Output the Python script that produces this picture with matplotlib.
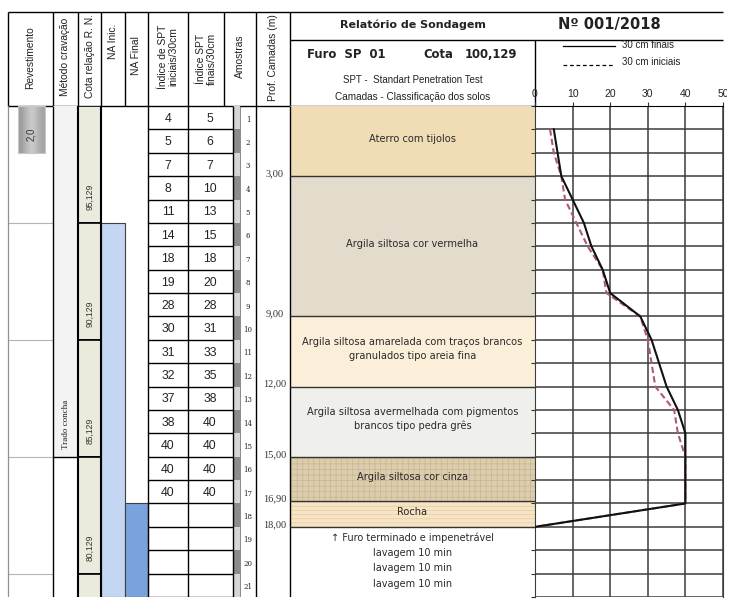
import numpy as np
from matplotlib import pyplot as plt
from matplotlib.patches import Rectangle
from matplotlib.transforms import Bbox

plt.rcParams['font.family'] = ['Liberation Sans', 'DejaVu Sans']
plt.rcParams['hatch.linewidth'] = 0.5

# dados da sondagem SP 01
amostras = list(range(1, 22))
spt_ini = [4, 5, 7, 8, 11, 14, 18, 19, 28, 30, 31, 32, 37, 38, 40, 40, 40]   # 30 cm iniciais
spt_fin = [5, 6, 7, 10, 13, 15, 18, 20, 28, 31, 33, 35, 38, 40, 40, 40, 40]  # 30 cm finais
prof_fim = 18.0      # furo impenetravel
prof_total = 21

camada_topo = [0.0, 3.0, 9.0, 12.0, 15.0, 16.9]
camada_base = [3.0, 9.0, 12.0, 15.0, 16.9, 18.0]
camada_nome = ['Aterro com tijolos',
               'Argila siltosa cor vermelha',
               'Argila siltosa amarelada com traços brancos\ngranulados tipo areia fina',
               'Argila siltosa avermelhada com pigmentos\nbrancos tipo pedra grês',
               'Argila siltosa cor cinza',
               'Rocha']
camada_cor = ['#f0ddb5', '#e3dccd', '#fcefd9', '#efefec', '#dccdae', '#f6e4c5']
camada_hatch = [None, None, None, None, '+++', '----']
camada_hcor = [None, None, None, None, '#c9b690', '#e6cca0']

cota_boca = 100.129
cota_faixas = [0, 5, 10, 15, 20]
revestimento = 2.0
metodo = 'Trado concha'
metodo_ate = 15.0
na_inic = 5.0
na_final = 17.0
notas = ['↑ Furo terminado e impenetrável', 'lavagem 10 min', 'lavagem 10 min', 'lavagem 10 min']

# layout em pixels
W, H = 738, 605
Y_TOPO, Y_BASE = 106, 597
cols_cab = [8, 53, 78, 101, 125, 148, 188, 224, 256, 290]
X_CAM = (290, 535)
X_GRAF = (535, 723)

fig = plt.figure(figsize=(W / 100, H / 100), dpi=100)
fig.patch.set_facecolor('white')

# ---------------- cabecalho ----------------
axh = fig.add_axes([0, 0, 1, 1])
axh.set_xlim(0, W)
axh.set_ylim(H, 0)
axh.axis('off')

axh.hlines(12, 8, 723, color='k', lw=1)
axh.hlines(Y_TOPO, 8, X_GRAF[0], color='k', lw=1)
axh.vlines(cols_cab, 12, Y_TOPO, color='k', lw=1)
axh.hlines(40, 290, 723, color='k', lw=1)
axh.vlines(535, 40, Y_TOPO, color='k', lw=1)

cab = [('Revestimento', 30, 58), ('Método cravação', 65, 57), ('Cota relação R. N.', 90, 56),
       ('NA Inic.', 113, 41), ('NA Final', 136, 56), ('Índice de SPT\niniciais/30cm', 168, 57),
       ('Índice SPT\nfinais/30cm', 206, 59), ('Amostras', 240, 56), ('Prof. Camadas (m)', 273, 58)]
for txt, x, y in cab:
    axh.text(x, y, txt, rotation=90, ha='center', va='center', fontsize=7.4,
             color='#222222', linespacing=1.1, rotation_mode='anchor')

axh.text(413, 25, 'Relatório de Sondagem', ha='center', va='center', fontsize=8,
         fontweight='bold', family='DejaVu Sans', color='#222222')
axh.text(609, 25, 'Nº 001/2018', ha='center', va='center', fontsize=10.5,
         fontweight='bold', family='DejaVu Sans', color='#222222')
axh.text(307, 55, 'Furo  SP  01', ha='left', va='center', fontsize=8.4,
         fontweight='bold', family='DejaVu Sans', color='#222222')
axh.text(423, 55, 'Cota', ha='left', va='center', fontsize=8.4,
         fontweight='bold', family='DejaVu Sans', color='#222222')
axh.text(465, 55, f'{cota_boca:.3f}'.replace('.', ','), ha='left', va='center', fontsize=8.4,
         fontweight='bold', family='DejaVu Sans', color='#222222')
axh.text(413, 80, 'SPT -  Standart Penetration Test', ha='center', va='center',
         fontsize=7, color='#222222')
axh.text(413, 97, 'Camadas - Classificação dos solos', ha='center', va='center',
         fontsize=7.2, color='#222222')

axh.plot([563, 615], [46, 46], color='k', lw=0.9)
axh.plot([563, 615], [65, 65], color='k', lw=0.9, ls=(0, (3, 2.2)))
axh.text(622, 45, '30 cm finais', ha='left', va='center', fontsize=7, color='#222222')
axh.text(622, 62, '30 cm iniciais', ha='left', va='center', fontsize=7, color='#222222')

# ---------------- corpo (profundidade) ----------------
axb = fig.add_axes([0, (H - Y_BASE) / H, 1, (Y_BASE - Y_TOPO) / H])
axb.set_xlim(0, W)
axb.set_ylim(prof_total, 0)
axb.axis('off')
axb.patch.set_alpha(0)

# revestimento
axb.hlines([5, 10, 15, 20], 8, 53, color='#b5b5b5', lw=0.8)
grad = np.array([[0.6, 0.66, 0.74, 0.8, 0.76, 0.68, 0.64]])
axb.imshow(grad, cmap='gray', vmin=0, vmax=1, extent=(18, 45, revestimento, 0),
           aspect='auto', interpolation='bicubic', zorder=2)
axb.add_patch(Rectangle((18, 0), 27, revestimento, fill=False, ec='#c8c8c8', lw=0.8, zorder=3))
axb.text(31, 1.2, f'{revestimento:.1f}'.replace('.', ','), rotation=90, ha='center',
         va='center', fontsize=7, color='#333333', zorder=4)

# metodo de cravacao
axb.add_patch(Rectangle((53, 0), 25, metodo_ate, fc='#f3f3f3', ec='none'))
axb.hlines(metodo_ate, 53, 78, color='k', lw=1)
axb.text(66, metodo_ate - 1.4, metodo, rotation=90, ha='center', va='center', fontsize=6.5,
         family='Liberation Serif', color='#222222')

# cotas
for f in cota_faixas:
    axb.add_patch(Rectangle((78, f), 23, 5, fc='#ece9dd', ec='k', lw=1.2))
    if f + 5 <= prof_total:
        cota = f'{cota_boca - (f + 5):.3f}'.replace('.', ',')
        axb.text(90, f + 3.9, cota, rotation=90, ha='center', va='center', fontsize=6.2,
                 color='#333333')

# nivel d'agua
axb.add_patch(Rectangle((101, na_inic), 24, prof_total - na_inic, fc='#c5d6f3', ec='#404040', lw=0.8))
axb.add_patch(Rectangle((125, na_final), 23, prof_total - na_final, fc='#7aa2dc', ec='#404040', lw=0.8))

# SPT e amostras
axb.hlines(amostras, 148, 233, color='k', lw=1)
for i in amostras:
    axb.add_patch(Rectangle((233, i - 1), 7, 1, fc='#d5d5d5' if i % 2 else '#8c8c8c', ec='none'))
    axb.text(248, i - 0.42, str(i), ha='center', va='center', fontsize=5,
             family='DejaVu Serif', color='#222222')
for i, (a, b) in enumerate(zip(spt_ini, spt_fin), start=1):
    axb.text(168, i - 0.45, str(a), ha='center', va='center', fontsize=8.8, color='#222222')
    axb.text(210, i - 0.45, str(b), ha='center', va='center', fontsize=8.8, color='#222222')

axb.vlines(8, 0, prof_total, color='#909090', lw=0.9)
axb.vlines([53, 148, 188, 233, 256, 290], 0, prof_total, color='k', lw=1)
axb.vlines([78, 101], 0, prof_total, color='k', lw=1.5)
axb.vlines(240, 0, prof_total, color='#777777', lw=0.6)

# profundidades das camadas
for d in camada_base:
    axb.text(275, d - 0.1, f'{d:.2f}'.replace('.', ','), ha='center', va='center',
             fontsize=7.5, family='Liberation Serif', color='#333333')

# camadas
for topo, base, nome, cor, h, hc in zip(camada_topo, camada_base, camada_nome,
                                        camada_cor, camada_hatch, camada_hcor):
    axb.add_patch(Rectangle((X_CAM[0], topo), X_CAM[1] - X_CAM[0], base - topo, fc=cor,
                            ec=hc if h else 'none', lw=0, hatch=h))
    axb.text((X_CAM[0] + X_CAM[1]) / 2, (topo + base) / 2 - 0.1, nome, ha='center',
             va='center', fontsize=7.1, family='DejaVu Sans', color='#2a2a2a',
             linespacing=1.45)
axb.hlines(camada_base, X_CAM[0], X_CAM[1], color='#333333', lw=1)

for k, nota in enumerate(notas):
    axb.text((X_CAM[0] + X_CAM[1]) / 2, prof_fim + 0.45 + 0.66 * k, nota, ha='center',
             va='center', fontsize=7, family='DejaVu Sans', color='#2a2a2a')

# ---------------- grafico SPT ----------------
axg = fig.add_axes([X_GRAF[0] / W, (H - Y_BASE) / H, (X_GRAF[1] - X_GRAF[0]) / W, (Y_BASE - Y_TOPO) / H])
axg.set_xlim(0, 50)
axg.set_ylim(prof_total, 0)
prof = amostras[:len(spt_fin)]
axg.plot(spt_ini + [0], prof + [prof_fim], color='#b05a6a', lw=1.5, ls=(0, (3, 1.6)), zorder=3)
axg.plot(spt_fin + [0], prof + [prof_fim], color='#111111', lw=1.5, zorder=4)

axg.set_xticks([0, 10, 20, 30, 40, 50])
axg.set_yticks(range(0, prof_total + 1))
axg.grid(True, color='#3c3c3c', lw=1.1)
axg.tick_params(axis='x', top=True, bottom=False, labeltop=True, labelbottom=False,
                direction='out', length=3, pad=2, labelsize=7.5, color='#333333',
                labelcolor='#222222')
axg.tick_params(axis='y', left=True, right=False, labelleft=False, direction='out',
                length=3, color='#333333')
for s in axg.spines.values():
    s.set_color('#3c3c3c')
axg.spines['bottom'].set_visible(False)
axg.spines['top'].set_color('k')
for lbl in axg.get_xticklabels():
    lbl.set_clip_box(Bbox.from_extents(0, 0, 727, H))
    lbl.set_clip_on(True)

fig.savefig('out.png', dpi=100)
